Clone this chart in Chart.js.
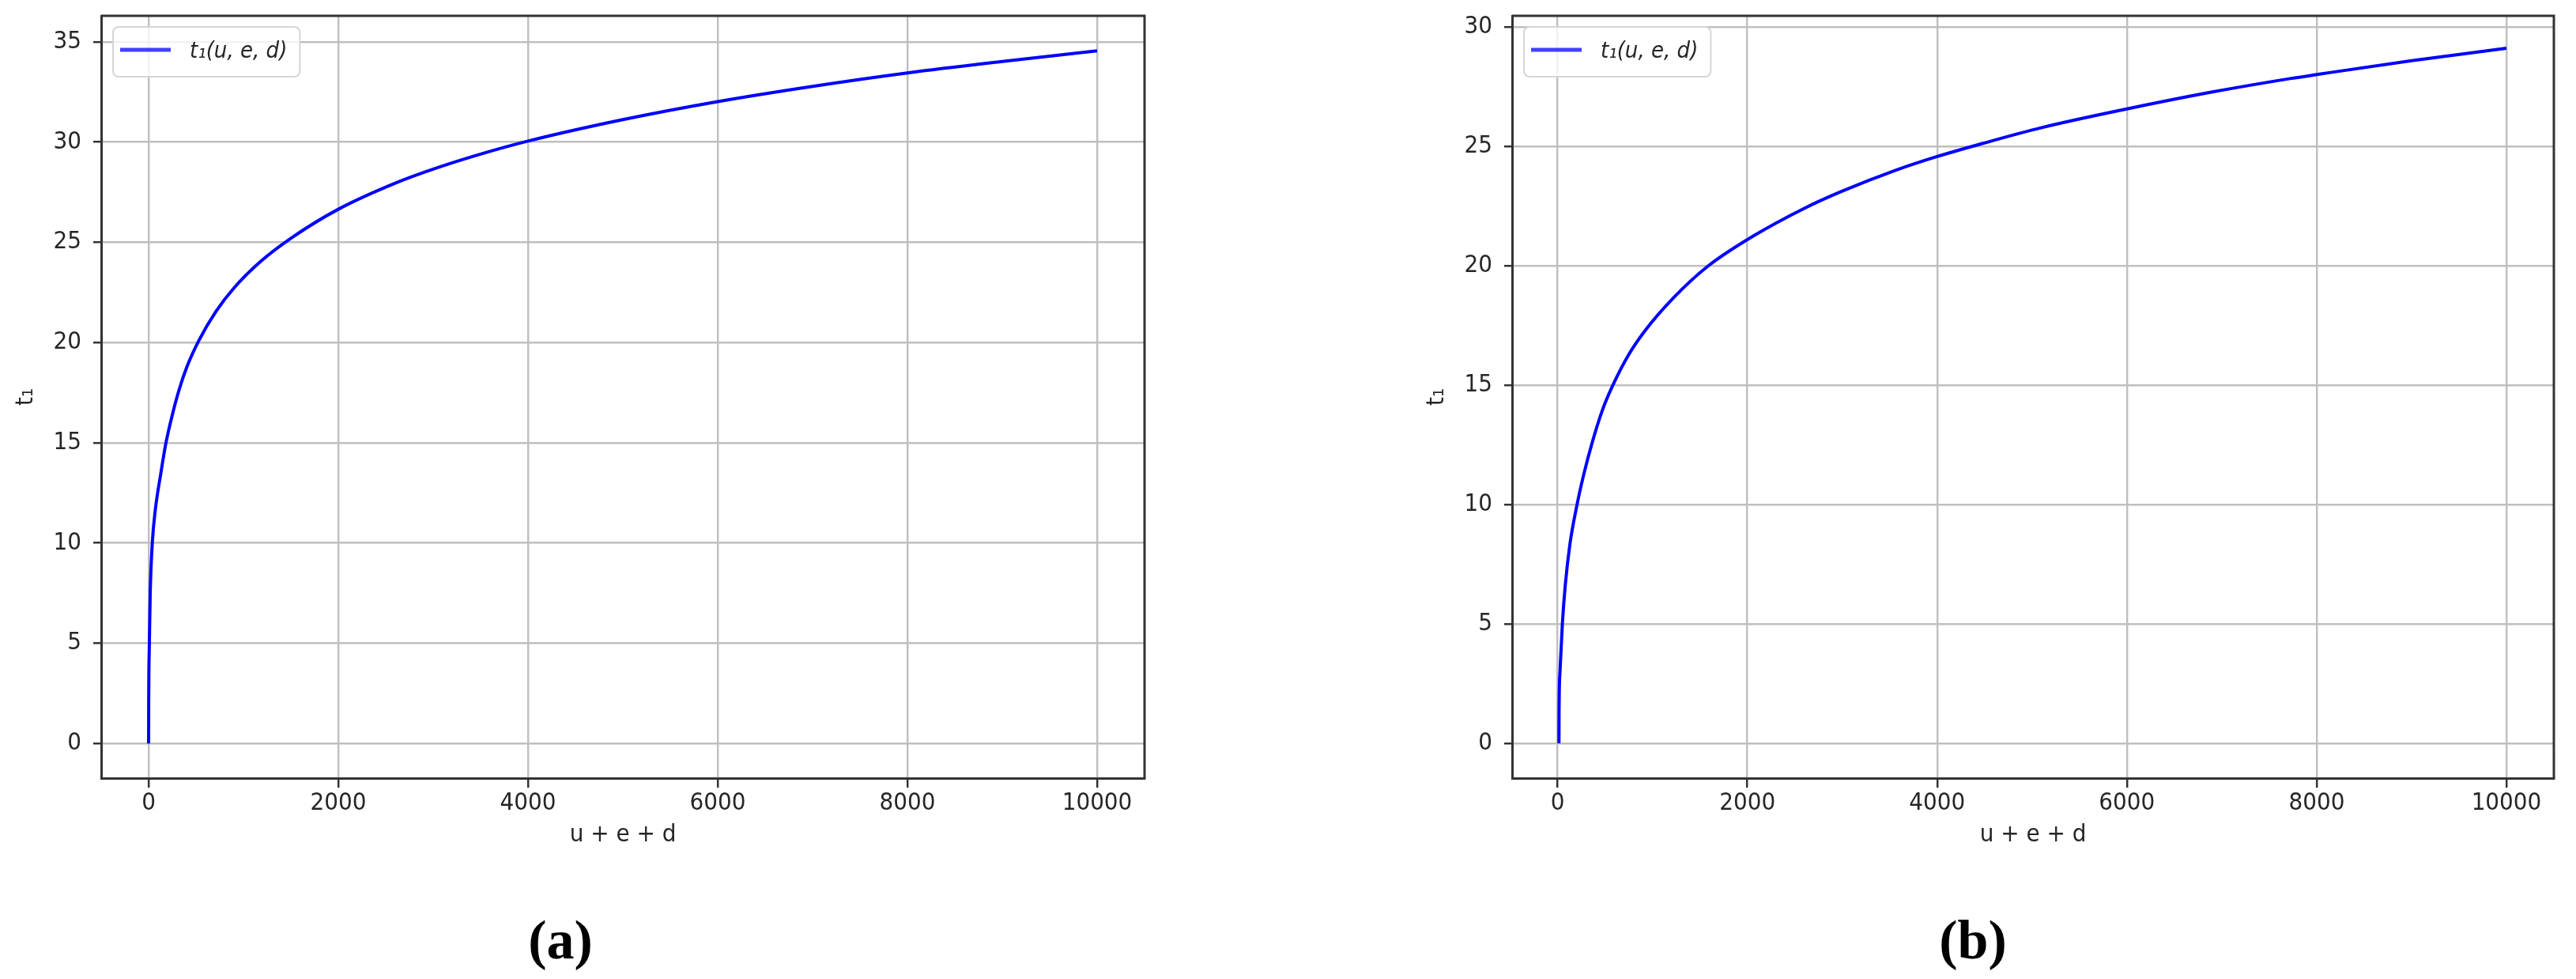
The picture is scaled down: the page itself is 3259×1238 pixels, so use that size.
<!DOCTYPE html>
<html>
<head>
<meta charset="utf-8">
<script src="https://cdn.jsdelivr.net/npm/chart.js@4.4.1/dist/chart.umd.min.js"></script>
<style>
  html, body { margin: 0; padding: 0; background: #fff; overflow: hidden; }
  body { width: 3259px; height: 1238px; position: relative; }
  canvas { position: absolute; top: 0; }
  #chartA { left: 0; }
  #chartB { left: 1785px; }
  .sub {
    position: absolute; top: 1149px; width: 200px; line-height: 80px;
    text-align: center; font-family: 'Liberation Serif', 'DejaVu Serif', serif;
    font-weight: bold; font-size: 70px; color: #000;
  }
</style>
</head>
<body>
<canvas id="chartA" width="1500" height="1100"></canvas>
<canvas id="chartB" width="1474" height="1100"></canvas>
<div class="sub" style="left:609px">(a)</div>
<div class="sub" style="left:2396px">(b)</div>
<script>
// values
const xTicks = [0, 2000, 4000, 6000, 8000, 10000];
const leftYTicks = [0, 5, 10, 15, 20, 25, 30, 35];
const rightYTicks = [0, 5, 10, 15, 20, 25, 30];

const leftX = [0, 1, 3, 8, 17, 39, 72, 128, 183, 253, 322, 405, 530, 710, 905, 1182, 1515,
  2000, 2600, 3000, 3500, 4000, 5000, 6000, 7000, 8000, 9000, 10000];
const leftT = [0, 2, 3.5, 5, 7.5, 10, 11.7, 13.45, 15.0, 16.45, 17.65, 18.8, 20.1, 21.55, 22.75, 24.05, 25.25,
  26.65, 27.95, 28.65, 29.4, 30.05, 31.12, 32.02, 32.78, 33.45, 34.02, 34.55];

const rightX = [14, 15, 25, 50, 80, 130, 205, 275, 365, 472, 583, 749, 916, 1221, 1582,
  2054, 2600, 3000, 3567, 4000, 4483, 5094, 6000, 6900, 7733, 8000, 9000, 10000];
const rightT = [0, 1.3, 3.0, 5.0, 6.6, 8.35, 10.0, 11.25, 12.6, 13.95, 15.0, 16.27, 17.25, 18.65, 19.97,
  21.22, 22.4, 23.12, 24.0, 24.57, 25.12, 25.77, 26.56, 27.27, 27.84, 28.0, 28.58, 29.1];

const FONT = "'DejaVu Sans Condensed', 'DejaVu Sans', sans-serif";
const INK = '#262626';

// top/right spines and a matplotlib style legend box in the upper left
const framePlugin = {
  id: 'frame',
  afterDraw(chart) {
    const {ctx, chartArea: ca} = chart;
    ctx.save();
    ctx.strokeStyle = '#333';
    ctx.lineWidth = 3;
    ctx.beginPath();
    ctx.moveTo(ca.left, ca.top);
    ctx.lineTo(ca.right, ca.top);
    ctx.lineTo(ca.right, ca.bottom);
    ctx.stroke();

    const ds = chart.data.datasets[0];
    const bx = ca.left + 15, by = ca.top + 14;
    ctx.font = 'italic 29px ' + FONT;
    const tw = ctx.measureText(ds.label).width;
    ctx.beginPath();
    ctx.roundRect(bx, by, 97 + tw + 16, 63, 7);
    ctx.fillStyle = 'rgba(255,255,255,0.8)';
    ctx.fill();
    ctx.strokeStyle = '#d6d6d6';
    ctx.lineWidth = 2;
    ctx.stroke();

    ctx.strokeStyle = 'rgba(0,0,255,0.75)';
    ctx.lineWidth = 5;
    ctx.beginPath();
    ctx.moveTo(ca.left + 24, by + 29);
    ctx.lineTo(ca.left + 88, by + 29);
    ctx.stroke();

    ctx.fillStyle = INK;
    ctx.textBaseline = 'middle';
    ctx.textAlign = 'left';
    ctx.fillText(ds.label, ca.left + 112, by + 31);
    ctx.restore();
  }
};

function noPad(s) {
  s.paddingTop = 0;
  s.paddingBottom = 0;
  s.paddingLeft = 0;
  s.paddingRight = 0;
}

function makeChart(id, xs, ts, yTicks, yMin, yMax, xMin) {
  const points = xs.map((x, i) => ({x: x, y: ts[i]}));
  return new Chart(document.getElementById(id), {
    type: 'line',
    data: {
      datasets: [{
        label: 't\u2081(u, e, d)',
        data: points,
        borderColor: '#0000ff',
        backgroundColor: '#0000ff',
        borderWidth: 4,
        pointRadius: 0,
        cubicInterpolationMode: 'monotone',
        fill: false
      }]
    },
    options: {
      responsive: false,
      animation: false,
      devicePixelRatio: 1,
      layout: { padding: { left: 0, top: 20, right: id === 'chartA' ? 52 : 28, bottom: 0 } },
      scales: {
        x: {
          type: 'linear',
          min: xMin,
          max: 10500,
          afterBuildTicks: s => { s.ticks = xTicks.map(v => ({value: v})); },
          afterFit: s => { s.height = 116; noPad(s); },
          ticks: { color: INK, font: {family: FONT, size: 31}, padding: 1, callback: v => String(v) },
          grid: { color: '#bfbfbf', lineWidth: 2.4, tickLength: 12, tickColor: '#333', tickWidth: 2.5 },
          border: { color: '#333', width: 3 },
          title: { display: true, text: 'u + e + d', color: INK, font: {family: FONT, size: 31},
                   padding: { top: 0, bottom: 25 } }
        },
        y: {
          type: 'linear',
          min: yMin,
          max: yMax,
          afterBuildTicks: s => { s.ticks = yTicks.map(v => ({value: v})); },
          afterFit: s => { s.width = 128; noPad(s); },
          ticks: { color: INK, font: {family: FONT, size: 31}, padding: 15, callback: v => String(v) },
          grid: { color: '#bfbfbf', lineWidth: 2.4, tickLength: 10, tickColor: '#333', tickWidth: 2.5 },
          border: { color: '#333', width: 3 },
          title: { display: true, text: 't\u2081', color: INK, font: {family: FONT, size: 31},
                   padding: { top: 14, bottom: 0 } }
        }
      },
      plugins: {
        legend: { display: false },
        tooltip: { enabled: false }
      }
    },
    plugins: [framePlugin]
  });
}

makeChart('chartA', leftX, leftT, leftYTicks, -1.73, 36.3, -500);
makeChart('chartB', rightX, rightT, rightYTicks, -1.46, 30.46, -480);
</script>
</body>
</html>
